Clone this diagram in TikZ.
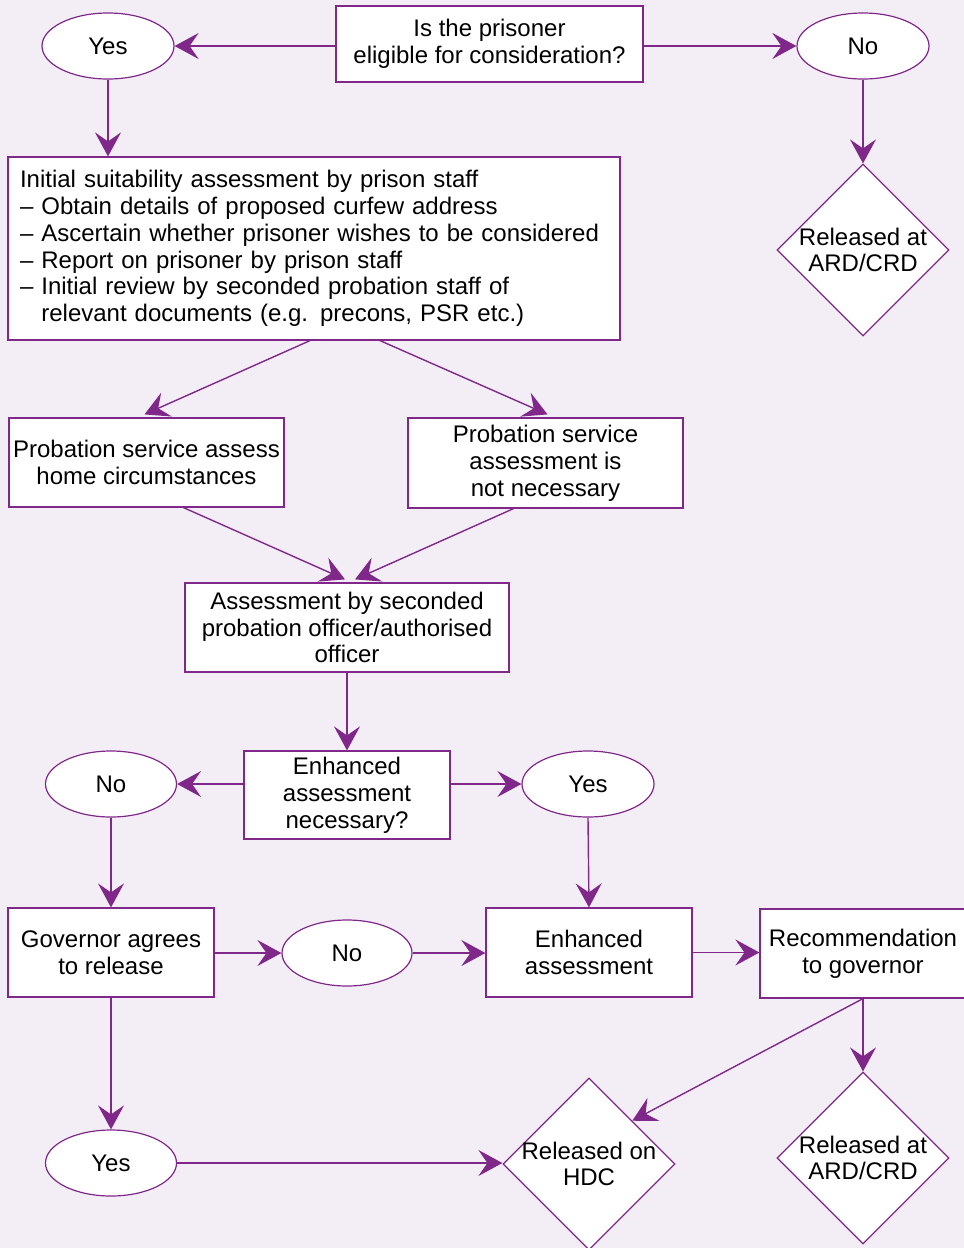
\documentclass[tikz,border=0pt]{standalone}
\usepackage{fontspec}
\setmainfont{Liberation Sans}
\usepackage{tikz}
\usetikzlibrary{arrows.meta,shapes.geometric}
\usepackage{xcolor}
\definecolor{hdcpurple}{RGB}{128,40,138}
\definecolor{hdcback}{RGB}{243,238,246}

\begin{document}
\begin{tikzpicture}[x=1pt,y=-1pt,
  every edge/.style={draw,color=hdcpurple,line width=1.4pt,-{Stealth[length=24pt,width=26pt,inset=9pt]}},
  box/.style={rectangle,draw=hdcpurple,fill=white,line width=1.2pt,align=center,inner sep=0pt,
    minimum width=206pt,minimum height=89pt,font=\fontsize{24}{26.8}\selectfont},
  oval/.style={ellipse,draw=hdcpurple,fill=white,line width=1.2pt,inner sep=0pt,
    minimum width=132pt,minimum height=66pt,font=\fontsize{24}{26.8}\selectfont},
  decision/.style={diamond,draw=hdcpurple,fill=white,line width=1.2pt,inner sep=0pt,
    minimum width=172pt,minimum height=172pt,label={[align=center,font=\fontsize{24}{26.8}\selectfont]center:#1}}]
  \fill[hdcback] (0,0) rectangle (964,1248);
  \useasboundingbox (0,0) rectangle (964,1248);

  \node[box,minimum width=307pt,minimum height=76pt] (Elig) at (489.5,44) {Is the prisoner\\eligible for consideration?};
  \node[oval] (Yes1) at (108,46) {Yes};
  \node[oval] (No1)  at (863,46) {No};
  \node[decision={Released at\\ARD/CRD}] (Ard1) at (863,250) {};
  \node[box,align=left,text width=588pt,minimum width=612pt,minimum height=183pt,inner xsep=12pt] (Init) at (314,248.5)
    {Initial suitability assessment by prison staff\\
     -- Obtain details of proposed curfew address\\
     -- Ascertain whether prisoner wishes to be considered\\
     -- Report on prisoner by prison staff\\
     -- Initial review by seconded probation staff of\\
     \hphantom{-- }relevant documents (e.g. precons, PSR etc.)};
  \node[box,minimum width=275pt] (Home) at (146.5,462.5) {Probation service assess\\home circumstances};
  \node[box,minimum width=275pt,minimum height=90pt] (NotNec) at (545.5,463) {Probation service\\assessment is\\not necessary};
  \node[box,minimum width=324pt] (Second) at (347,627.5) {Assessment by seconded\\probation officer/authorised\\officer};
  \node[box,minimum height=88pt] (EnhQ) at (347,795) {Enhanced\\assessment\\necessary?};
  \node[oval,minimum width=131pt] (No2)  at (111,784) {No};
  \node[oval] (Yes2) at (588,784) {Yes};
  \node[box] (Gov) at (111,952.5) {Governor agrees\\to release};
  \node[oval,minimum width=130pt] (No3) at (347,953) {No};
  \node[box] (Enh) at (589,952.5) {Enhanced\\assessment};
  \node[box] (Rec) at (863,953.5) {Recommendation\\to governor};
  \node[oval,minimum width=131pt] (Yes3) at (111,1163) {Yes};
  \node[decision={Released on\\HDC}] (Hdc) at (589,1164) {};
  \node[decision={Released at\\ARD/CRD}] (Ard2) at (863,1158) {};

  \path (Elig.west |- Yes1) edge (Yes1.east)
        (Elig.east |- No1) edge (No1.west)
        (Yes1.south) edge (Yes1.south |- Init.north)
        (No1.south) edge (Ard1.north)
        ([xshift=-4pt]Init.south) edge ([xshift=-2pt,yshift=3pt]Home.north)
        ([xshift=66pt]Init.south) edge ([xshift=2pt,yshift=3pt]NotNec.north)
        ([xshift=37pt]Home.south) edge ([xshift=-2pt,yshift=3pt]Second.north)
        ([xshift=-32pt]NotNec.south) edge ([xshift=8pt,yshift=3pt]Second.north)
        (Second.south) edge (EnhQ.north)
        (EnhQ.west |- No2) edge (No2.east)
        (EnhQ.east |- Yes2) edge (Yes2.west)
        (No2.south) edge (No2.south |- Gov.north)
        (Yes2.south) edge (Enh.north)
        (Gov.east |- No3) edge (No3.west)
        (No3.east) edge (No3.east -| Enh.west)
        (Enh.east) edge (Enh.east -| Rec.west)
        (Rec.south) edge (Ard2.north)
        (Rec.south) edge (Hdc.north east)
        (Gov.south) edge (Yes3.north)
        (Yes3.east) edge (Yes3.east -| Hdc.west);
\end{tikzpicture}
\end{document}
